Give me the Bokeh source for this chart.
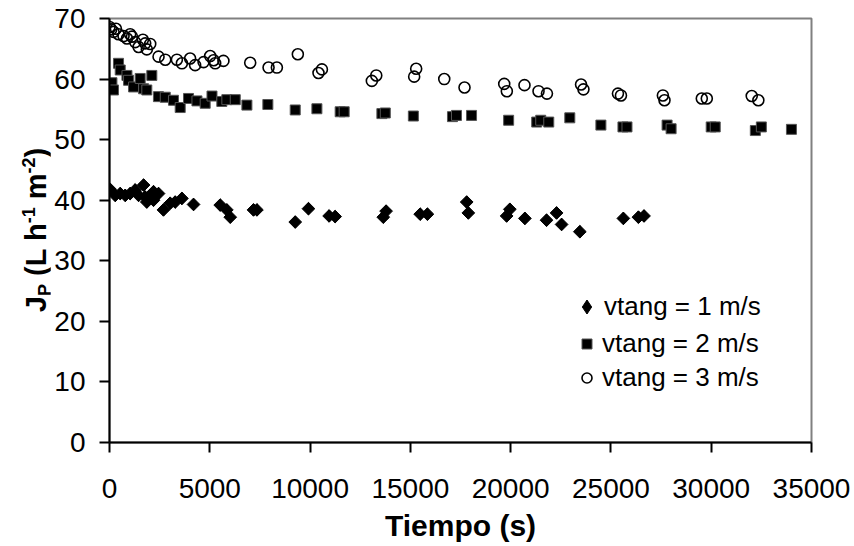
import math
from bokeh.plotting import figure
from bokeh.layouts import row
from bokeh.models import Range1d, FixedTicker, Legend, LegendItem, Div
from bokeh.embed import file_html
from bokeh.resources import INLINE

# Permeate flux J_P (L h-1 m-2) versus time (s) for three tangential velocities

# vtang = 1 m/s
t_v1 = [30, 285, 535, 785, 1030, 1280, 1450, 1700, 1780, 1860, 2030, 2195, 2195,
        2445, 2690, 3025, 3275, 3610, 4190, 5520, 5850, 6020, 7180, 7350, 9260,
        9920, 10950, 11250, 13650, 13790, 15490, 15850, 17810, 17890, 19800,
        19960, 20710, 21790, 22290, 22540, 23450, 25620, 26370, 26650]
j_v1 = [41.8, 40.8, 41.1, 40.8, 41.1, 41.7, 40.8, 42.5, 40.5, 39.7, 40.8, 41.4, 40.0,
        41.1, 38.4, 39.5, 39.7, 40.3, 39.3, 39.2, 38.4, 37.2, 38.4, 38.4, 36.4,
        38.6, 37.4, 37.3, 37.2, 38.2, 37.7, 37.7, 39.7, 37.9, 37.4,
        38.5, 37.0, 36.7, 37.9, 36.0, 34.8, 37.0, 37.2, 37.4]

# vtang = 2 m/s
t_v2 = [120, 200, 450, 535, 870, 950, 1200, 1530, 1700, 1860, 2110, 2440, 2780,
        3190, 3525, 3940, 4360, 4770, 5110, 5600, 5850, 6270, 6850, 7895, 9260,
        10340, 11500, 11700, 13580, 13750, 15150, 17100, 17300, 18050, 19900,
        21300, 21500, 21900, 22950, 24500, 25600, 25800, 27800, 28000, 30000,
        30200, 32200, 32500, 34000]
j_v2 = [59.4, 58.2, 62.6, 61.5, 60.6, 59.8, 58.7, 60.1, 58.4, 58.2, 60.6, 57.1, 57.0,
        56.5, 55.3, 56.8, 56.4, 56.0, 57.2, 56.3, 56.6, 56.6, 55.7, 55.8, 54.9,
        55.1, 54.6, 54.6, 54.3, 54.4, 53.9, 53.8, 54.0, 54.0, 53.2,
        52.9, 53.2, 52.9, 53.6, 52.4, 52.1, 52.1, 52.4, 51.8, 52.1,
        52.1, 51.5, 52.1, 51.7]

# vtang = 3 m/s
t_v3 = [0, 85, 200, 320, 450, 700, 870, 1030, 1120, 1280, 1450, 1665, 1780, 1860,
        2030, 2445, 2780, 3360, 3610, 4020, 4270, 4690, 5020, 5190, 5270, 5680,
        7015, 7930, 8345, 9390, 10420, 10590, 13080, 13300, 15190, 15290, 16690,
        17700, 19680, 19810, 20690, 21390, 21810, 23510, 23630, 25350, 25500,
        27590, 27670, 29530, 29780, 32020, 32350]
j_v3 = [68.6, 68.2, 67.8, 68.3, 67.4, 67.1, 66.7, 67.4, 67.0, 66.1, 65.3, 66.5, 65.9, 64.9,
        65.8, 63.7, 63.2, 63.2, 62.6, 63.4, 62.3, 62.8, 63.8, 63.1, 62.6, 63.0,
        62.7, 61.9, 61.9, 64.1, 61.0, 61.6, 59.7, 60.6, 60.4, 61.7, 60.0,
        58.6, 59.2, 58.0, 59.0, 58.0, 57.6, 59.1, 58.3, 57.6, 57.3,
        57.3, 56.5, 56.8, 56.8, 57.2, 56.5]

series_labels = ["vtang = 1 m/s", "vtang = 2 m/s", "vtang = 3 m/s"]
x_ticks = [0, 5000, 10000, 15000, 20000, 25000, 30000, 35000]
y_ticks = [0, 10, 20, 30, 40, 50, 60, 70]

FONT = "Liberation Sans"
W, H = 854, 546
TITLE_W = 50                      # strip on the left holding the rotated y title
FRAME_L, FRAME_R, FRAME_T, FRAME_B = 109, 43, 18, 104

p = figure(width=W - TITLE_W, height=H, output_backend="svg", toolbar_location=None,
           x_range=Range1d(0, 35000), y_range=Range1d(0, 70),
           min_border_left=FRAME_L - TITLE_W, min_border_right=FRAME_R,
           min_border_top=FRAME_T, min_border_bottom=FRAME_B)

p.background_fill_color = "white"
p.border_fill_color = "white"
p.xgrid.visible = False
p.ygrid.visible = False
p.outline_line_color = "#808080"
p.outline_line_width = 2

for ax, ticks in ((p.xaxis, x_ticks), (p.yaxis, y_ticks)):
    ax.ticker = FixedTicker(ticks=ticks)
    ax.minor_tick_line_color = None
    ax.major_tick_in = 0
    ax.major_tick_out = 10
    ax.axis_line_color = "black"
    ax.axis_line_width = 2
    ax.major_tick_line_color = "black"
    ax.major_tick_line_width = 2
    ax.major_label_text_font = FONT
    ax.major_label_text_font_size = "28px"
    ax.major_label_text_color = "black"

p.xaxis.major_label_standoff = 26
p.yaxis.major_label_standoff = 14
p.xaxis.axis_label = "Tiempo (s)"
p.xaxis.axis_label_text_font = FONT
p.xaxis.axis_label_text_font_style = "bold"
p.xaxis.axis_label_text_font_size = "30px"
p.xaxis.axis_label_text_color = "black"
p.xaxis.axis_label_standoff = 8

# legend swatch for the first series: a diamond kept underneath the rotated squares
r1_key = p.scatter(t_v1, j_v1, marker="diamond", size=12,
                   fill_color="black", line_color="black")
r1 = p.scatter(t_v1, j_v1, marker="square", size=9, angle=math.pi / 4,
               fill_color="black", line_color="black", line_width=1)
r2 = p.scatter(t_v2, j_v2, marker="square", size=10,
               fill_color="black", line_color="#555555", line_width=1)
r3 = p.scatter(t_v3, j_v3, marker="circle", size=11,
               fill_color=None, line_color="black", line_width=1.6)


def key(label, renderer, loc, glyph, label_h, standoff):
    return Legend(items=[LegendItem(label=label, renderers=[renderer])],
                  location=loc, orientation="vertical",
                  border_line_color=None, background_fill_alpha=0,
                  label_text_font=FONT, label_text_font_size="26px",
                  label_text_color="black", glyph_width=glyph, glyph_height=glyph,
                  label_height=label_h, label_standoff=standoff,
                  spacing=0, padding=0, margin=0)


p.add_layout(key(series_labels[0], r1_key, (460, 118), 35, 35, -2))
p.add_layout(key(series_labels[1], r2, (465, 83), 25, 32, 3))
p.add_layout(key(series_labels[2], r3, (465, 49), 25, 32, 3))

# y-axis title with subscript and superscripts, rotated to read bottom-to-top
small = "font-size:18px; position:relative;"
ytitle_html = (
    '<div style="position:absolute; left:36px; top:230px; '
    'transform:translate(-50%, -50%) rotate(-90deg); white-space:nowrap; '
    "font-family:'Liberation Sans', Arial, sans-serif; font-weight:bold; "
    'font-size:29px; line-height:1; color:black;">'
    f'J<span style="{small} top:5px;">P</span> (L h'
    f'<span style="{small} top:-11px;">-1</span> m'
    f'<span style="{small} top:-11px;">-2</span>)</div>'
)
ytitle = Div(text=ytitle_html, width=TITLE_W, height=H, margin=0,
             styles={"position": "relative", "overflow": "visible"})

layout = row(ytitle, p, spacing=0)
open("out.html", "w").write(file_html(layout, INLINE))
